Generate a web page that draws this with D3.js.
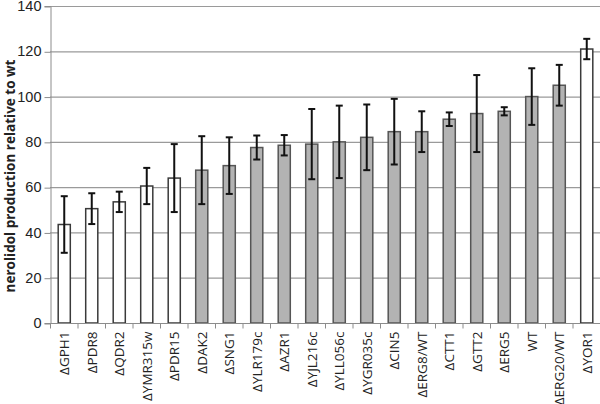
<!DOCTYPE html>
<html>
<head>
<meta charset="utf-8">
<script src="https://cdn.jsdelivr.net/npm/d3@7"></script>
<style>
  body { margin: 0; background: #fff; }
  svg { display: block; font-family: "Open Sans", "Noto Sans", sans-serif; }
</style>
</head>
<body>
<div id="chart"></div>
<script>
// strains on the x axis
const strains = ["ΔGPH1", "ΔPDR8", "ΔQDR2", "ΔYMR315w", "ΔPDR15", "ΔDAK2", "ΔSNG1",
  "ΔYLR179c", "ΔAZR1", "ΔYJL216c", "ΔYLL056c", "ΔYGR035c", "ΔCIN5", "ΔERG8/WT",
  "ΔCTT1", "ΔGTT2", "ΔERG5", "WT", "ΔERG20/WT", "ΔYOR1"];
// nerolidol relative to wt
const values = [43.5, 50.5, 53.5, 60.5, 64, 67.5, 69.5, 77.5, 78.5, 79, 80, 82,
  84.5, 84.5, 90, 92.5, 93.5, 100, 105, 121];
// error bar half-width
const errors = [12.5, 6.8, 4.5, 8, 15, 15, 12.5, 5.3, 4.5, 15.5, 16, 14.5,
  14.5, 9, 3, 17, 1.8, 12.5, 9, 4.5];
// white bars vs grey bars
const groups = ["w", "w", "w", "w", "w", "g", "g", "g", "g", "g", "g", "g",
  "g", "g", "g", "g", "g", "g", "g", "w"];
const yTicks = [0, 20, 40, 60, 80, 100, 120, 140];

const W = 600, H = 404;
const margin = { top: 6, right: 0, bottom: 81, left: 50 };
const width = W - margin.left - margin.right;
const height = H - margin.top - margin.bottom;

const svg = d3.select("#chart").append("svg")
  .attr("width", W)
  .attr("height", H);

const g = svg.append("g")
  .attr("transform", `translate(${margin.left},${margin.top})`);

const x = d3.scaleBand()
  .domain(strains)
  .range([0, width])
  .paddingInner(0.56)
  .paddingOuter(0.28);

const y = d3.scaleLinear()
  .domain([0, 140])
  .range([height, 0]);

// grid
g.append("g")
  .selectAll("line")
  .data(yTicks.slice(1))
  .join("line")
  .attr("x1", 0)
  .attr("x2", width)
  .attr("y1", d => y(d) + 0.5)
  .attr("y2", d => y(d) + 0.5)
  .attr("stroke", "#9a9a9a")
  .attr("stroke-width", 1.2);

// y axis
const yAxis = g.append("g")
  .attr("transform", "translate(0.5,0)")
  .call(d3.axisLeft(y).tickValues(yTicks).tickSize(6).tickPadding(3));
yAxis.select(".domain").attr("stroke", "#8c8c8c");
yAxis.selectAll(".tick line").attr("stroke", "#8c8c8c").attr("transform", "translate(0,0.5)");
yAxis.selectAll("text")
  .style("font-size", "14.5px")
  .attr("fill", "#222");

// bars
g.append("g")
  .selectAll("rect")
  .data(strains)
  .join("rect")
  .attr("x", d => x(d) + 0.5)
  .attr("y", (d, i) => y(values[i]))
  .attr("width", x.bandwidth())
  .attr("height", (d, i) => y(0) - y(values[i]))
  .attr("fill", (d, i) => groups[i] === "w" ? "#ffffff" : "#b3b3b3")
  .attr("stroke", (d, i) => groups[i] === "w" ? "#3a3a3a" : "#555")
  .attr("stroke-width", 1.5);

// error bars
const eb = g.append("g")
  .attr("stroke", "#111")
  .attr("stroke-width", 2);
strains.forEach((s, i) => {
  const cx = x(s) + x.bandwidth() / 2 + 0.5;
  const lo = y(values[i] - errors[i]);
  const hi = y(values[i] + errors[i]);
  eb.append("line").attr("x1", cx).attr("x2", cx).attr("y1", lo).attr("y2", hi);
  eb.append("line").attr("x1", cx - 3.5).attr("x2", cx + 3.5).attr("y1", lo).attr("y2", lo);
  eb.append("line").attr("x1", cx - 3.5).attr("x2", cx + 3.5).attr("y1", hi).attr("y2", hi);
});

// x axis
const xa = g.append("g")
  .attr("transform", `translate(0,${height + 0.5})`);
xa.append("line")
  .attr("x1", 0).attr("x2", width)
  .attr("stroke", "#8c8c8c").attr("stroke-width", 1.2);
xa.selectAll(".tk")
  .data(d3.range(strains.length + 1))
  .join("line")
  .attr("class", "tk")
  .attr("x1", i => i * x.step() + 0.5)
  .attr("x2", i => i * x.step() + 0.5)
  .attr("y1", 0).attr("y2", 5)
  .attr("stroke", "#8c8c8c");
xa.selectAll("text")
  .data(strains)
  .join("text")
  .attr("transform", d => `translate(${x(d) + x.bandwidth() / 2 + 5.5},8) rotate(-90)`)
  .attr("text-anchor", "end")
  .style("font-size", "13.5px")
  .attr("fill", "#222")
  .text(d => d);

// y label
svg.append("text")
  .attr("transform", `translate(15,176) rotate(-90)`)
  .attr("text-anchor", "middle")
  .style("font-size", "13.5px")
  .style("font-weight", "bold")
  .attr("fill", "#222")
  .text("nerolidol production relative to wt");
</script>
</body>
</html>
